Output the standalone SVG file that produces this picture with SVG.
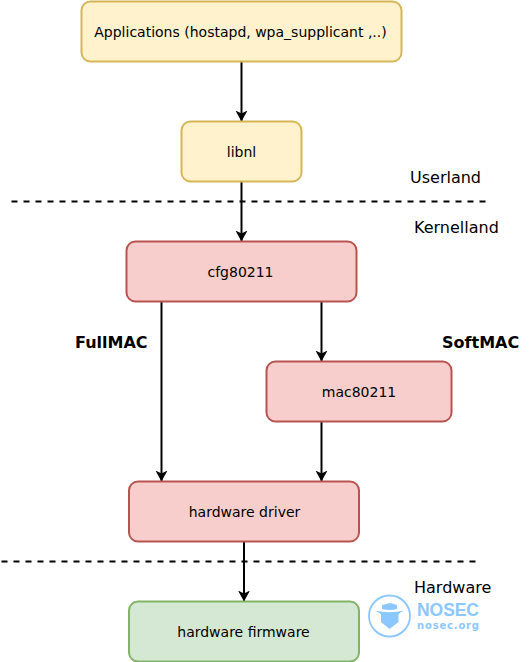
<svg xmlns="http://www.w3.org/2000/svg" width="532" height="662" viewBox="0 0 532 662">
<style>
text{font-family:"DejaVu Sans",sans-serif;fill:#000}
.n{font-size:14px;text-anchor:middle}
.l{font-size:16px}
.b{font-size:16px;font-weight:bold}
.y{fill:#fff2cc;stroke:#d6b656;stroke-width:2}
.r{fill:#f8cecc;stroke:#b85450;stroke-width:2}
.g{fill:#d5e8d4;stroke:#82b366;stroke-width:2}
.c{fill:none;stroke:#000;stroke-width:2;marker-end:url(#a)}
.d{fill:none;stroke:#000;stroke-width:2;stroke-dasharray:6 6}
.k{fill:#8cc8ff}
</style>
<defs><marker id="a" markerUnits="userSpaceOnUse" markerWidth="13" markerHeight="13" refX="11" refY="6" orient="auto"><path d="M0 0L11 6L0 12L3 6Z" fill="#000"/></marker></defs>
<g id="connectors">
<path class="c" d="M241.500 61.500V121.500"/>
<path class="c" d="M241.500 181.500V241.500"/>
<path class="c" d="M161.500 301.500V481.500"/>
<path class="c" d="M321.500 301.500V361.500"/>
<path class="c" d="M321.500 421.500V481.500"/>
<path class="c" d="M244 541.500V601.500"/>
<path class="d" d="M11.500 201.500H486.500"/>
<path class="d" d="M1.500 561.500H476.500"/>
</g>
<g id="applications"><rect class="y" x="81.500" y="1.500" width="320" height="60" rx="9"/><text class="n" x="240.500" y="37">Applications (hostapd, wpa_supplicant ,..)</text></g>
<g id="libnl"><rect class="y" x="181.500" y="121.500" width="120" height="60" rx="9"/><text class="n" x="241.500" y="157">libnl</text></g>
<g id="cfg80211"><rect class="r" x="126.500" y="241.500" width="230" height="60" rx="9"/><text class="n" x="240.500" y="277">cfg80211</text></g>
<g id="mac80211"><rect class="r" x="266.500" y="361.500" width="185" height="60" rx="9"/><text class="n" x="359" y="397">mac80211</text></g>
<g id="hardware-driver"><rect class="r" x="129" y="481.500" width="230" height="60" rx="9"/><text class="n" x="244.500" y="517">hardware driver</text></g>
<g id="hardware-firmware"><rect class="g" x="129" y="601.500" width="230" height="60" rx="9"/><text class="n" x="243.500" y="637">hardware firmware</text></g>
<g id="labels">
<text class="l" x="410" y="183">Userland</text>
<text class="l" x="414" y="233">Kernelland</text>
<text class="b" x="75" y="348">FullMAC</text>
<text class="b" x="442" y="348">SoftMAC</text>
<text class="l" x="414" y="593">Hardware</text>
</g>
<g id="logo">
<circle cx="389.500" cy="616" r="20.500" fill="#fff" stroke="#8cc8ff" stroke-width="1.800"/>
<path class="k" d="M375 610.500Q390 614 404 610.500Q399 613 398.500 614.500V622L389.500 629L381 622V614.500Q380 613 375 610.500Z"/>
<path class="k" d="M382 609V605L390 603L397 605V609Q390 611 382 609Z"/>
<text x="417" y="615.500" font-size="17.500" font-weight="bold" style="font-family:'Liberation Sans',sans-serif;fill:#8cc8ff" textLength="62">NOSEC</text>
<text x="417" y="628.600" font-size="10" font-weight="bold" style="font-family:'DejaVu Sans',sans-serif;fill:#8cc8ff" textLength="62">nosec.org</text>
</g>
</svg>
